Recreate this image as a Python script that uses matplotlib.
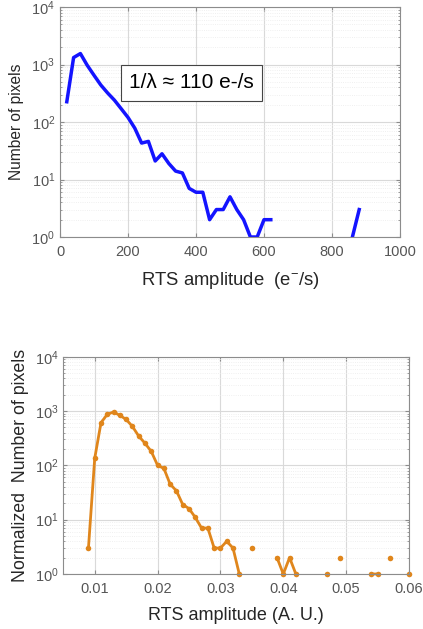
import numpy as np
import matplotlib
matplotlib.use("Agg")
import matplotlib.pyplot as plt
from matplotlib.ticker import LogLocator, FixedLocator, NullFormatter

plt.rcParams['font.family'] = ['Liberation Sans', 'DejaVu Sans']
plt.rcParams['mathtext.fontset'] = 'custom'
plt.rcParams['mathtext.rm'] = 'Liberation Sans'
plt.rcParams['mathtext.it'] = 'Liberation Sans:italic'

# ---- Top panel data (RTS amplitude in e-/s) ----
top_x = [20, 40, 60, 80, 100, 120, 140, 160, 180, 200, 220, 240, 260, 280, 300,
         320, 340, 360, 380, 400, 420, 440, 460, 480, 500, 520, 540, 560, 580,
         600, 620, 640, 660, 680, 700, 720, 740, 760, 780, 800, 820, 840, 860, 880]
top_counts = [225, 1320, 1550, 970, 650, 440, 320, 240, 170, 120, 78, 43, 46, 21, 28,
              19, 14, 13, 7, 6, 6, 2, 3, 3, 5, 3, 2, 1, 1,
              2, 2, 0, 0, 0, 0, 0, 0, 0, 0, 0, 0, 0, 1, 3]
top_xticks = [0, 200, 400, 600, 800, 1000]
top_annot = "1/\u03bb \u2248 110 e-/s"

# ---- Bottom panel data (RTS amplitude in A.U.) ----
bot_x = [0.009, 0.010, 0.011, 0.012, 0.013, 0.014, 0.015, 0.016, 0.017, 0.018,
         0.019, 0.020, 0.021, 0.022, 0.023, 0.024, 0.025, 0.026, 0.027, 0.028,
         0.029, 0.030, 0.031, 0.032, 0.033, 0.034, 0.035, 0.036, 0.037, 0.038,
         0.039, 0.040, 0.041, 0.042, 0.043, 0.044, 0.045, 0.046, 0.047, 0.048,
         0.049, 0.050, 0.051, 0.052, 0.053, 0.054, 0.055, 0.056, 0.057, 0.058,
         0.059, 0.060]
bot_counts = [3, 135, 610, 870, 960, 830, 700, 520, 345, 255,
              180, 100, 88, 45, 34, 19, 16, 11, 7, 7,
              3, 3, 4, 3, 1, 0, 3, 0, 0, 0,
              2, 1, 2, 1, 0, 0, 0, 0, 1, 0,
              2, 0, 0, 0, 0, 1, 1, 0, 2, 0,
              0, 1]
bot_xticks = [0.01, 0.02, 0.03, 0.04, 0.05, 0.06]

TICK_COLOR = '#555555'
LABEL_COLOR = '#262626'
SPINE_COLOR = '#8c8c8c'

def style_axes(ax):
    ax.set_yscale('log')
    ax.set_ylim(1, 1e4)
    ax.yaxis.set_major_locator(LogLocator(base=10, numticks=10))
    ax.yaxis.set_minor_locator(LogLocator(base=10, subs=np.arange(2, 10), numticks=10))
    ax.yaxis.set_minor_formatter(NullFormatter())
    ax.grid(True, which='major', color='#d9d9d9', linewidth=0.8)
    ax.grid(True, which='minor', axis='y', color='#ebebeb', linewidth=0.6, linestyle=':')
    ax.set_axisbelow(True)
    for s in ax.spines.values():
        s.set_color(SPINE_COLOR)
        s.set_linewidth(0.8)
    ax.tick_params(axis='both', which='both', direction='in', colors=SPINE_COLOR,
                   labelcolor=TICK_COLOR, labelsize=10.5, length=3, top=True, right=True)
    ax.tick_params(axis='both', which='minor', length=1.5)
    ax.tick_params(axis='x', pad=6)

fig = plt.figure(figsize=(4.23, 6.29), dpi=100)

# Top panel
ax1 = fig.add_axes([60/423, 1 - 237/629, 340/423, 230/629])
yt = np.array(top_counts, dtype=float)
yt[yt <= 0] = np.nan
ax1.plot(top_x, yt, color='#1414ff', linewidth=2.5, solid_joinstyle='round')
style_axes(ax1)
ax1.set_xlim(0, 1000)
ax1.xaxis.set_major_locator(FixedLocator(top_xticks))
ax1.set_xlabel("RTS amplitude  (e$^{-}$/s)", fontsize=13.3, color=LABEL_COLOR, labelpad=8)
ax1.set_ylabel("Number of pixels", fontsize=11.2, color=LABEL_COLOR, labelpad=5)
ax1.text(0.387, 0.67, top_annot, transform=ax1.transAxes, fontsize=15,
         color='black', ha='center', va='center',
         bbox=dict(boxstyle='square,pad=0.4', facecolor='white', edgecolor='#444444', linewidth=0.8))

# Bottom panel
ax2 = fig.add_axes([63.3/423, 1 - 574/629, 345.7/423, 217.3/629])
yb = np.array(bot_counts, dtype=float)
yb[yb <= 0] = np.nan
ax2.plot(bot_x, yb, color='#e0861c', linewidth=2.0, marker='o', markersize=4,
         markeredgewidth=0, clip_on=False)
style_axes(ax2)
ax2.set_xlim(0.005, 0.06)
ax2.xaxis.set_major_locator(FixedLocator(bot_xticks))
ax2.set_xticklabels([f"{v:.2f}" for v in bot_xticks])
ax2.set_xlabel("RTS amplitude (A. U.)", fontsize=13, color=LABEL_COLOR, labelpad=8)
ax2.set_ylabel("Normalized  Number of pixels", fontsize=12.8, color=LABEL_COLOR, labelpad=4)

fig.savefig("out.png", dpi=100, facecolor='white')
